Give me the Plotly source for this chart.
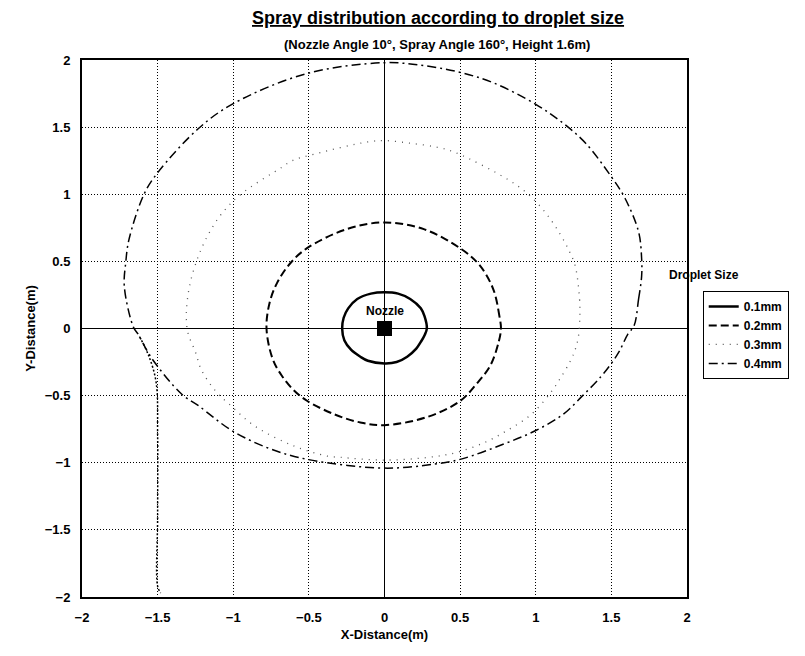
import plotly.graph_objects as go

# contour points (metres)
x_01 = [0.28, 0.265, 0.24, 0.17, 0.09, 0.0, -0.09, -0.18, -0.24, -0.27, -0.28, -0.265, -0.22,
        -0.16, -0.11, 0.0, 0.08, 0.15, 0.21, 0.24, 0.265, 0.28]
y_01 = [0.0, 0.09, 0.15, 0.22, 0.26, 0.27, 0.26, 0.22, 0.15, 0.08, 0.0, -0.09, -0.16,
        -0.21, -0.24, -0.26, -0.25, -0.21, -0.15, -0.10, -0.05, 0.0]

x_02 = [0.77, 0.76, 0.72, 0.63, 0.51, 0.26, 0.0, -0.25, -0.51, -0.62, -0.71, -0.76, -0.78,
        -0.74, -0.68, -0.60, -0.51, -0.33, -0.16, 0.0, 0.28, 0.50, 0.61, 0.70, 0.755, 0.77]
y_02 = [0.0, 0.09, 0.29, 0.47, 0.59, 0.74, 0.79, 0.74, 0.60, 0.49, 0.34, 0.19, 0.0,
        -0.225, -0.35, -0.46, -0.54, -0.64, -0.70, -0.72, -0.66, -0.54, -0.41, -0.275, -0.10, 0.0]

x_03 = [1.29, 1.29, 1.26, 1.22, 1.16, 1.07, 0.96, 0.83, 0.47, 0.35, 0.17, 0.0, -0.11, -0.46,
        -0.61, -0.68, -0.95, -1.08, -1.17, -1.24, -1.29, -1.31, -1.30, -1.25, -1.21, -1.11,
        -1.03, -0.86, -0.60, -0.38, -0.29, 0.0, 0.29, 0.47, 0.66, 0.81, 0.97, 1.10, 1.16,
        1.23, 1.26, 1.28, 1.29]
y_03 = [0.04, 0.21, 0.47, 0.58, 0.705, 0.855, 0.99, 1.10, 1.31, 1.35, 1.38, 1.40, 1.39, 1.30,
        1.25, 1.20, 1.0, 0.85, 0.69, 0.51, 0.31, 0.11, -0.03, -0.175, -0.31, -0.475,
        -0.56, -0.725, -0.875, -0.95, -0.96, -0.98, -0.96, -0.925, -0.85, -0.76, -0.64, -0.475, -0.375,
        -0.24, -0.16, -0.075, 0.04]

x_04 = [1.65, 1.68, 1.70, 1.70, 1.68, 1.59, 1.50, 1.33, 1.18, 1.00, 0.72, 0.51, 0.28, 0.0,
        -0.51, -1.0, -1.23, -1.50, -1.59, -1.69, -1.71, -1.72, -1.66, -1.63, -1.54, -1.34,
        -1.23, -1.01, -0.77, -0.51, 0.0, 0.33, 0.50, 0.79, 1.0, 1.18, 1.31, 1.43, 1.50, 1.55,
        1.61, 1.65]
y_04 = [0.02, 0.22, 0.39, 0.52, 0.72, 0.97, 1.13, 1.38, 1.53, 1.67, 1.83, 1.905, 1.955, 1.98,
        1.90, 1.675, 1.49, 1.16, 1.0, 0.66, 0.5, 0.31, 0.01, -0.04, -0.22, -0.49,
        -0.575, -0.76, -0.89, -0.975, -1.04, -1.01, -0.975, -0.86, -0.76, -0.64, -0.5, -0.36,
        -0.26, -0.175, -0.04, 0.02]

# stray 0.4mm branch running down the x=-1.5 grid line
x_04b = [-1.62, -1.56, -1.51, -1.50, -1.50, -1.50, -1.48]
y_04b = [-0.06, -0.2, -0.4, -0.8, -1.4, -1.92, -1.97]

tick_vals = [-2, -1.5, -1, -0.5, 0, 0.5, 1, 1.5, 2]

series = [
    ("0.1mm", x_01, y_01, dict(color="black", width=2.5, dash="solid")),
    ("0.2mm", x_02, y_02, dict(color="black", width=2, dash="8px,4px")),
    ("0.3mm", x_03, y_03, dict(color="#555555", width=1.3, dash="1px,6px")),
    ("0.4mm", x_04, y_04, dict(color="black", width=1.5, dash="9px,4px,2px,4px")),
]

FONT = "Liberation Sans, Arial, sans-serif"

fig = go.Figure()
for name, xs, ys, ln in series:
    fig.add_trace(go.Scatter(x=xs, y=ys, mode="lines", name=name, legendgroup=name,
                             line=dict(shape="spline", smoothing=1.0, **ln)))

fig.add_trace(go.Scatter(x=x_04b, y=y_04b, mode="lines", showlegend=False, legendgroup="0.4mm",
                         line=dict(shape="spline", color="black", width=1.5, dash="2px,2px")))

# nozzle marker
fig.add_trace(go.Scatter(x=[0], y=[0], mode="markers", showlegend=False,
                         marker=dict(symbol="square", size=15, color="black")))
fig.add_annotation(x=0, y=0.13, text="<b>Nozzle</b>", showarrow=False,
                   font=dict(size=12, color="black", family=FONT))

# titles
fig.add_annotation(xref="paper", yref="paper", x=0.588, y=1.078, yanchor="middle",
                   text="<b><u>Spray distribution according to droplet size</u></b>",
                   showarrow=False, font=dict(size=18, color="black", family=FONT))
fig.add_annotation(xref="paper", yref="paper", x=0.587, y=1.028, yanchor="middle",
                   text="<b>(Nozzle Angle 10°, Spray Angle 160°, Height 1.6m)</b>",
                   showarrow=False, font=dict(size=13, color="black", family=FONT))
fig.add_annotation(xref="paper", yref="paper", x=1.089, y=0.60, yanchor="middle",
                   text="<b>Droplet Size</b>", showarrow=False,
                   font=dict(size=12, color="black", family=FONT))

axis_style = dict(
    range=[-2, 2], tickvals=tick_vals, showgrid=True, gridcolor="black",
    gridwidth=1, griddash="1px,2px", zeroline=True, zerolinecolor="black",
    zerolinewidth=1.3, showline=True, linecolor="black", linewidth=2,
    mirror=True, ticks="", ticklabelstandoff=7,
    tickfont=dict(size=13, color="black", family=FONT, weight="bold"),
)

fig.update_xaxes(**axis_style, title=dict(text="<b>X-Distance(m)</b>", standoff=6,
                                          font=dict(size=13, color="black", family=FONT)))
fig.update_yaxes(**axis_style, title=dict(text="<b>Y-Distance(m)</b>", standoff=6,
                                          font=dict(size=13, color="black", family=FONT)))

fig.update_layout(
    width=797, height=648,
    margin=dict(l=74, r=118, t=52, b=59),
    paper_bgcolor="white", plot_bgcolor="white",
    font=dict(family=FONT, color="black"),
    legend=dict(x=1.026, y=0.57, xanchor="left", yanchor="top",
                bordercolor="black", borderwidth=1, bgcolor="white",
                font=dict(size=12, color="black", family=FONT, weight="bold"),
                tracegroupgap=0, itemwidth=30),
)

fig.write_html("out.html")
